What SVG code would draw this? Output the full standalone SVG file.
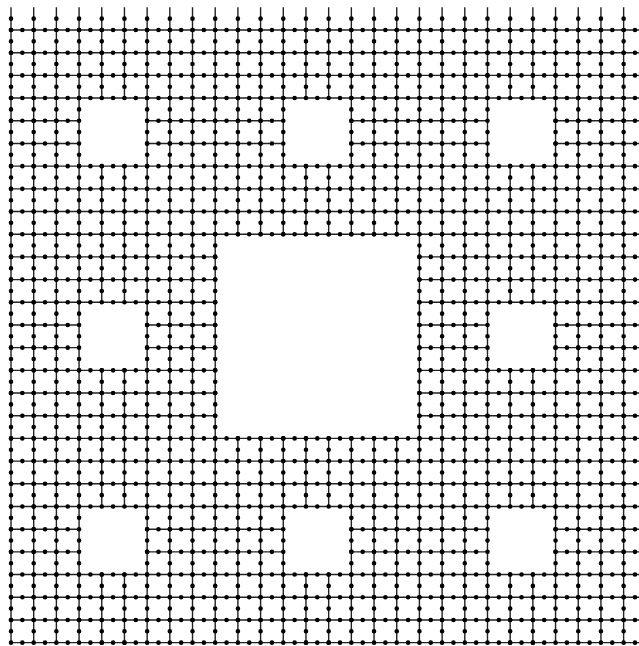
<svg xmlns="http://www.w3.org/2000/svg" xmlns:xlink="http://www.w3.org/1999/xlink" width="639" height="646" viewBox="0 0 639 646">
<style>
.ln{fill:none;stroke:#222;stroke-width:1.4}
.dt{fill:none;stroke:#000;stroke-width:4.6;stroke-linecap:round;stroke-dasharray:0 11.345}
.dt2{fill:none;stroke:#000;stroke-width:4.6;stroke-linecap:round;stroke-dasharray:0 22.69}
</style>
<defs>
<path id="top" d="M11 7.31V30M33.69 7.31V30M56.38 7.31V30M79.07 7.31V30M101.76 7.31V30M124.45 7.31V30M147.14 7.31V30M169.83 7.31V30M192.52 7.31V30M215.21 7.31V30M237.9 7.31V30M260.59 7.31V30M283.28 7.31V30M305.97 7.31V30M328.66 7.31V30M351.35 7.31V30M374.04 7.31V30M396.73 7.31V30M419.42 7.31V30M442.11 7.31V30M464.8 7.31V30M487.49 7.31V30M510.18 7.31V30M532.87 7.31V30M555.56 7.31V30M578.25 7.31V30M600.94 7.31V30M623.63 7.31V30"/>
<path id="v" d="M11 30V642.63M33.69 30V642.63M56.38 30V642.63M79.07 30V642.63
M101.76 30V98.07M101.76 166.14V302.28M101.76 370.35V506.49M101.76 574.56V642.63
M124.45 30V98.07M124.45 166.14V302.28M124.45 370.35V506.49M124.45 574.56V642.63
M147.14 30V642.63M169.83 30V642.63M192.52 30V642.63M215.21 30V642.63
M237.9 30V234.21M237.9 438.42V642.63
M260.59 30V234.21M260.59 438.42V642.63
M283.28 30V234.21M283.28 438.42V642.63
M305.97 30V98.07M305.97 166.14V234.21M305.97 438.42V506.49M305.97 574.56V642.63
M328.66 30V98.07M328.66 166.14V234.21M328.66 438.42V506.49M328.66 574.56V642.63
M351.35 30V234.21M351.35 438.42V642.63
M374.04 30V234.21M374.04 438.42V642.63
M396.73 30V234.21M396.73 438.42V642.63
M419.42 30V642.63M442.11 30V642.63M464.8 30V642.63M487.49 30V642.63
M510.18 30V98.07M510.18 166.14V302.28M510.18 370.35V506.49M510.18 574.56V642.63
M532.87 30V98.07M532.87 166.14V302.28M532.87 370.35V506.49M532.87 574.56V642.63
M555.56 30V642.63M578.25 30V642.63M600.94 30V642.63M623.63 30V642.63"/>
<path id="h" d="M11 30H646.32M11 52.69H646.32M11 75.38H646.32M11 98.07H646.32
M11 120.76H79.07M147.14 120.76H283.28M351.35 120.76H487.49M555.56 120.76H646.32
M11 143.45H79.07M147.14 143.45H283.28M351.35 143.45H487.49M555.56 143.45H646.32
M11 166.14H646.32M11 188.83H646.32M11 211.52H646.32M11 234.21H646.32
M11 256.9H215.21M419.42 256.9H646.32
M11 279.59H215.21M419.42 279.59H646.32
M11 302.28H215.21M419.42 302.28H646.32
M11 324.97H79.07M147.14 324.97H215.21M419.42 324.97H487.49M555.56 324.97H646.32
M11 347.66H79.07M147.14 347.66H215.21M419.42 347.66H487.49M555.56 347.66H646.32
M11 370.35H215.21M419.42 370.35H646.32
M11 393.04H215.21M419.42 393.04H646.32
M11 415.73H215.21M419.42 415.73H646.32
M11 438.42H646.32M11 461.11H646.32M11 483.8H646.32M11 506.49H646.32
M11 529.18H79.07M147.14 529.18H283.28M351.35 529.18H487.49M555.56 529.18H646.32
M11 551.87H79.07M147.14 551.87H283.28M351.35 551.87H487.49M555.56 551.87H646.32
M11 574.56H646.32M11 597.25H646.32M11 619.94H646.32M11 642.63H646.32"/>
</defs>
<rect width="639" height="646" fill="#fff"/>
<g id="edges">
<use href="#top" class="ln"/>
<use href="#v" class="ln"/>
<use href="#h" class="ln"/>
</g>
<g id="nodes">
<path class="dt2" d="M11 18.655H640"/>
<use href="#v" class="dt"/>
<use href="#h" class="dt"/>
</g>
</svg>
